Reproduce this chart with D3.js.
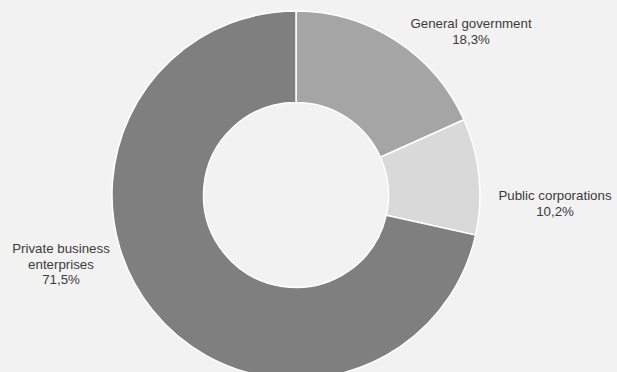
<!DOCTYPE html>
<html>
<head>
  <meta charset="utf-8">
  <title>Donut</title>
  <style>
    body { margin: 0; background: #f2f2f2; }
    svg { display: block; }
    text { font-family: Arial, "Liberation Sans", sans-serif; font-size: 13.3px; fill: #3a3a3a; }
  </style>
</head>
<body>
  <div class="area"></div>

  <script src="https://cdn.jsdelivr.net/npm/d3@7"></script>
  <script type="text/javascript">

  var categories = ['General government', 'Public corporations', 'Private business enterprises'];
  var shares = [18.3, 10.2, 71.5];
  var shareLabels = ['18,3%', '10,2%', '71,5%'];
  var labelLines = [['General government'], ['Public corporations'], ['Private business', 'enterprises']];
  var colors = ['#a5a5a5', '#d9d9d9', '#7f7f7f'];

  var w = 617, h = 372;
  var cx = 296, cy = 195, rOuter = 184, rInner = 92.5;

  var svg = d3.select('.area')
    .append('svg')
    .attr('width', w)
    .attr('height', h);

  svg.append('rect').attr('width', w).attr('height', h).attr('fill', '#f2f2f2');

  var pie = d3.pie().sort(null).value(function(d){ return d; });
  var arc = d3.arc().innerRadius(rInner).outerRadius(rOuter);
  var arcs = pie(shares);

  var g = svg.append('g').attr('transform', 'translate(' + cx + ',' + cy + ')');

  g.selectAll('path')
    .data(arcs)
    .enter().append('path')
    .attr('d', arc)
    .attr('fill', function(d, i){ return colors[i]; })
    .attr('stroke', '#fff')
    .attr('stroke-width', 1.5);

  // label spots (best-fit, relative to the centre), baseline of the first line
  var labelSpots = [[175, -167], [259, 5], [-235, 58]];
  var lineH = 15.6;

  var labels = svg.selectAll('text.lbl')
    .data(arcs)
    .enter().append('text')
    .attr('class', 'lbl')
    .attr('text-anchor', 'middle')
    .attr('transform', function(d, i){
      return 'translate(' + (cx + labelSpots[i][0]) + ',' + (cy + labelSpots[i][1]) + ')';
    });

  labels.each(function(d, i){
    var t = d3.select(this);
    var lines = labelLines[i].concat([shareLabels[i]]);
    lines.forEach(function(s, k){
      t.append('tspan').attr('x', 0).attr('y', k * lineH).text(s);
    });
  });

  </script>
</body>
</html>
